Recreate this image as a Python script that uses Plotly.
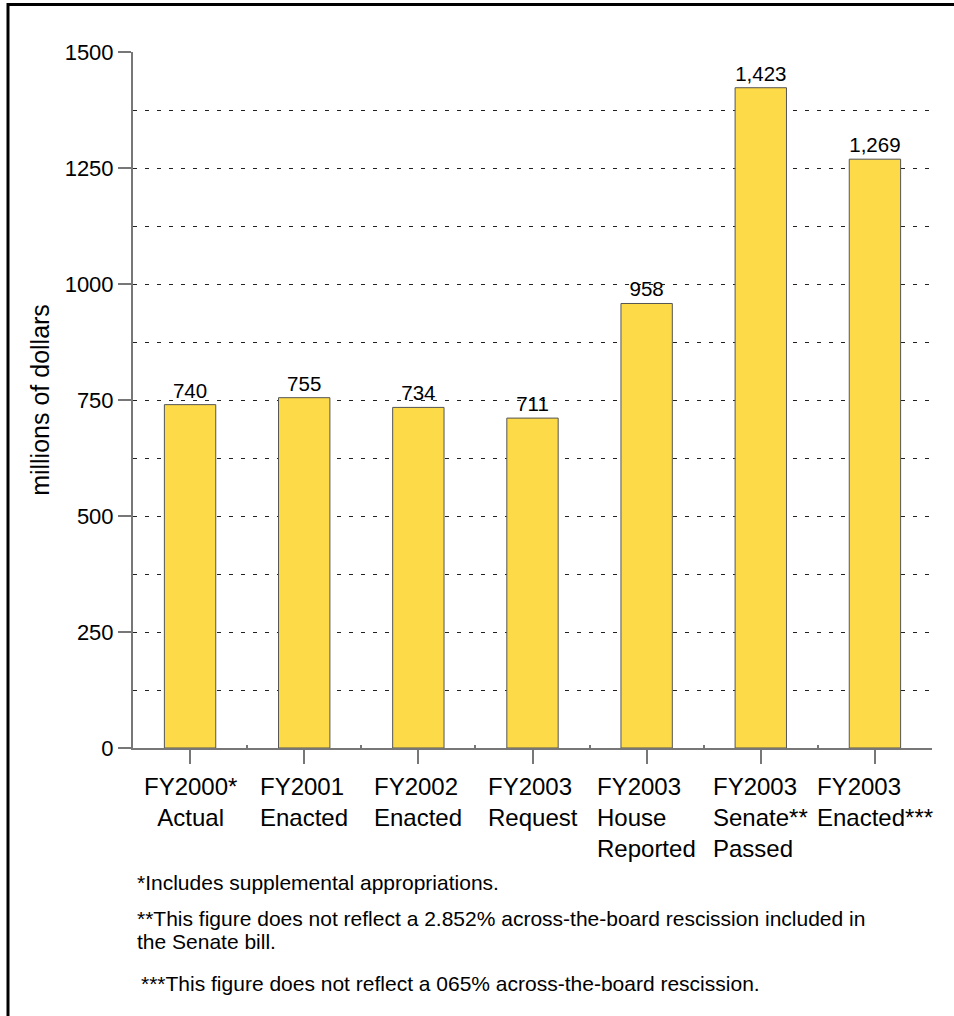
import plotly.graph_objects as go

categories = [
    ["FY2000*", "Actual"],
    ["FY2001", "Enacted"],
    ["FY2002", "Enacted"],
    ["FY2003", "Request"],
    ["FY2003", "House", "Reported"],
    ["FY2003", "Senate**", "Passed"],
    ["FY2003", "Enacted***"],
]
label_align = ["center", "left", "left", "left", "left", "left", "left"]
values = [740, 755, 734, 711, 958, 1423, 1269]
value_labels = ["740", "755", "734", "711", "958", "1,423", "1,269"]
y_ticks = [0, 250, 500, 750, 1000, 1250, 1500]
footnote_lines = [
    "*Includes supplemental appropriations.",
    "**This figure does not reflect a 2.852% across-the-board rescission included in",
    "the Senate bill.",
    "***This figure does not reflect a 065% across-the-board rescission.",
]

FONT = "Liberation Sans, Arial, sans-serif"
x = list(range(len(values)))

fig = go.Figure()
fig.add_trace(go.Bar(
    x=x, y=values, width=0.45,
    marker=dict(color="#FDDA48", line=dict(color="#555555", width=1)),
    text=value_labels, textposition="outside", cliponaxis=False,
    textfont=dict(family=FONT, size=20.5, color="#000"),
    hoverinfo="skip",
))

W, H = 954, 1016
L, R, T, B = 133, 22, 52, 268
pw, ph = W - L - R, H - T - B

def px_x(p):
    return (p - L) / pw

def px_y(p):
    return (H - B - p) / ph

annotations = []
for i, (lines, al) in enumerate(zip(categories, label_align)):
    annotations.append(dict(
        x=i, xref="x", y=px_y(771), yref="paper", yanchor="top", xanchor="center",
        text="<br>".join(lines), align=al, showarrow=False,
        font=dict(family=FONT, size=24, color="#000"),
    ))

foot_pos = [(135, 882), (135, 918), (135, 941), (139, 983)]
for txt, (fx, fy) in zip(footnote_lines, foot_pos):
    annotations.append(dict(
        x=px_x(fx), xref="paper", y=px_y(fy), yref="paper",
        xanchor="left", yanchor="middle", align="left",
        text=txt, showarrow=False,
        font=dict(family=FONT, size=21, color="#000"),
    ))

shapes = [
    dict(type="line", xref="paper", yref="paper",
         x0=px_x(8), x1=px_x(8), y0=px_y(3), y1=px_y(1040),
         line=dict(color="#000", width=3)),
    dict(type="line", xref="paper", yref="paper",
         x0=px_x(7), x1=px_x(970), y0=px_y(4.5), y1=px_y(4.5),
         line=dict(color="#000", width=3)),
]

fig.update_layout(
    width=W, height=H,
    margin=dict(l=L, r=R, t=T, b=B, pad=0),
    paper_bgcolor="white", plot_bgcolor="white",
    showlegend=False,
    font=dict(family=FONT, color="#000"),
    annotations=annotations,
    shapes=shapes,
    bargap=0.55,
)
fig.update_xaxes(
    range=[-0.5, 6.5], tickvals=x, showticklabels=False,
    ticks="outside", ticklen=14, tickcolor="#777", tickwidth=1.5,
    showline=True, linecolor="#777", linewidth=2,
    showgrid=False, zeroline=False,
    minor=dict(tickvals=[i + 0.5 for i in x[:-1]], ticks="inside", ticklen=3,
               tickcolor="#777", showgrid=False),
)
fig.update_yaxes(
    range=[0, 1500], tickvals=y_ticks, ticktext=[str(v) for v in y_ticks],
    ticks="outside", ticklen=13, tickcolor="#777", tickwidth=1.5,
    tickfont=dict(family=FONT, size=22, color="#000"),
    showline=True, linecolor="#777", linewidth=2,
    showgrid=True, gridcolor="#222", gridwidth=1, griddash="4px,8px",
    minor=dict(dtick=125, showgrid=True, gridcolor="#222", gridwidth=1,
               griddash="4px,8px"),
    zeroline=False,
    title=dict(text="millions of dollars", font=dict(family=FONT, size=25, color="#000"),
               standoff=8),
)

fig.write_html("out.html", config={"displayModeBar": False},
               post_script="document.body.style.margin='0';")
